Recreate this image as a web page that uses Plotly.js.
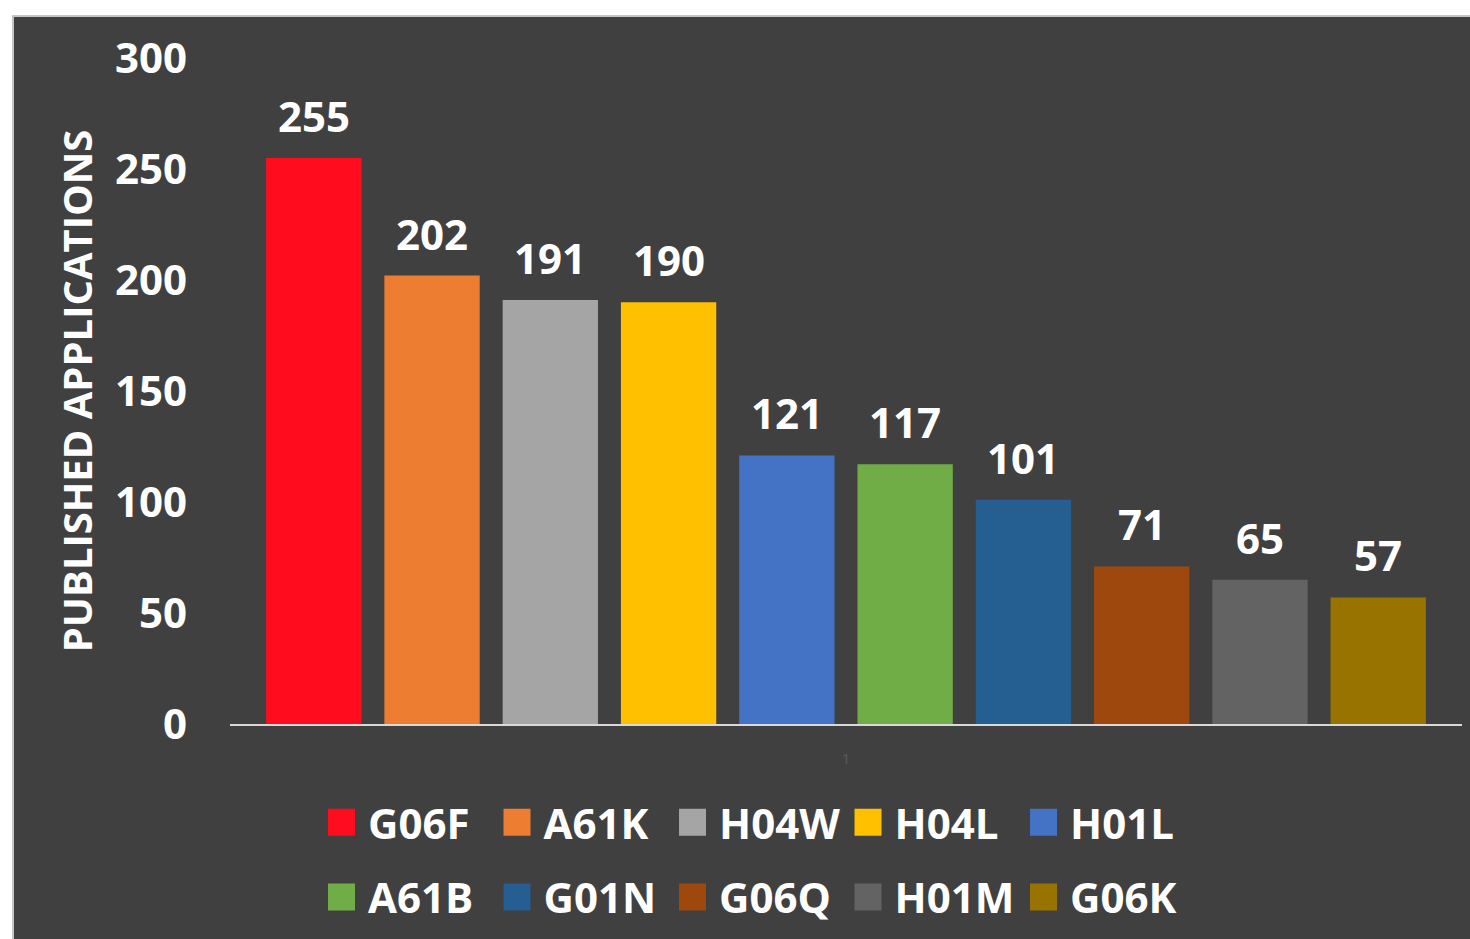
<!DOCTYPE html>
<html>
<head>
<meta charset="utf-8">
<script src="https://cdn.plot.ly/plotly-3.0.1.min.js"></script>
<style>
  html, body { margin: 0; padding: 0; background: #ffffff; width: 1470px; height: 939px; overflow: hidden; }
  #frame { position: absolute; left: 12px; top: 15px; border-left: 2px solid #c4c4c4; border-top: 2px solid #c4c4c4; }
  #chart { width: 1456px; height: 922px; }
</style>
</head>
<body>
<div id="frame"><div id="chart"></div></div>
<script>
const categories = ["1"];
const seriesNames = ["G06F", "A61K", "H04W", "H04L", "H01L", "A61B", "G01N", "G06Q", "H01M", "G06K"];
const seriesValues = [255, 202, 191, 190, 121, 117, 101, 71, 65, 57];
const seriesColors = ["#FF0D1F", "#ED7D31", "#A5A5A5", "#FFC000", "#4472C4", "#70AD47", "#255E91", "#9E480E", "#636363", "#997300"];
const yTicks = [0, 50, 100, 150, 200, 250, 300];

const FONT = "'Open Sans', 'DejaVu Sans', sans-serif";
const BARGAP = 0.04;
const BARGROUPGAP = 0.194;

const traces = seriesNames.map((name, i) => ({
  type: 'bar',
  name: name,
  x: categories,
  y: [seriesValues[i]],
  marker: { color: seriesColors[i], line: { width: 0 } },
  legend: i < 5 ? 'legend' : 'legend2',
  hoverinfo: 'skip'
}));

const n = seriesNames.length;
const slot = (1 - BARGAP) / n;
const annotations = seriesValues.map((v, i) => ({
  x: (i - (n - 1) / 2) * slot,
  y: v,
  xref: 'x', yref: 'y',
  text: String(v),
  showarrow: false,
  yanchor: 'bottom',
  yshift: 12,
  font: { family: FONT, size: 42, color: '#ffffff', weight: 'bold' }
}));

const legendCommon = {
  orientation: 'h',
  xanchor: 'left',
  yanchor: 'middle',
  bgcolor: 'rgba(0,0,0,0)',
  entrywidth: 117.5,
  itemwidth: 43,
  itemclick: false,
  itemdoubleclick: false,
  font: { family: FONT, size: 42, color: '#ffffff', weight: 'bold' }
};

const layout = {
  width: 1456,
  height: 922,
  paper_bgcolor: '#404040',
  plot_bgcolor: '#404040',
  margin: { l: 216, r: 8, t: 41, b: 212 },
  barmode: 'group',
  bargap: BARGAP,
  bargroupgap: BARGROUPGAP,
  showlegend: true,
  legend: Object.assign({}, legendCommon, { x: 0.069, y: -0.148 }),
  legend2: Object.assign({}, legendCommon, { x: 0.069, y: -0.26 }),
  xaxis: {
    type: 'category',
    showline: true,
    linecolor: '#d9d9d9',
    linewidth: 2,
    showgrid: false,
    zeroline: false,
    ticks: '',
    ticklabelstandoff: 20,
    tickfont: { family: FONT, size: 15, color: '#5a5a5a' },
    fixedrange: true
  },
  yaxis: {
    range: [0, 300],
    tickvals: yTicks,
    ticktext: yTicks.map(String),
    showline: false,
    showgrid: false,
    zeroline: false,
    ticks: '',
    ticklabelstandoff: 42,
    tickfont: { family: FONT, size: 42, color: '#ffffff', weight: 'bold' },
    title: { text: 'PUBLISHED APPLICATIONS', font: { family: FONT, size: 40, color: '#ffffff', weight: 'bold' }, standoff: 9 },
    fixedrange: true
  },
  annotations: annotations
};

function bigSwatches() {
  document.querySelectorAll('#chart .legendpoints path').forEach(p => {
    p.setAttribute('d', 'M13.5,13.5H-13.5V-13.5H13.5Z');
    p.style.strokeWidth = '0px';
  });
}

Plotly.newPlot('chart', traces, layout, { displayModeBar: false }).then(gd => {
  bigSwatches();
  gd.on('plotly_afterplot', bigSwatches);
});
</script>
</body>
</html>
